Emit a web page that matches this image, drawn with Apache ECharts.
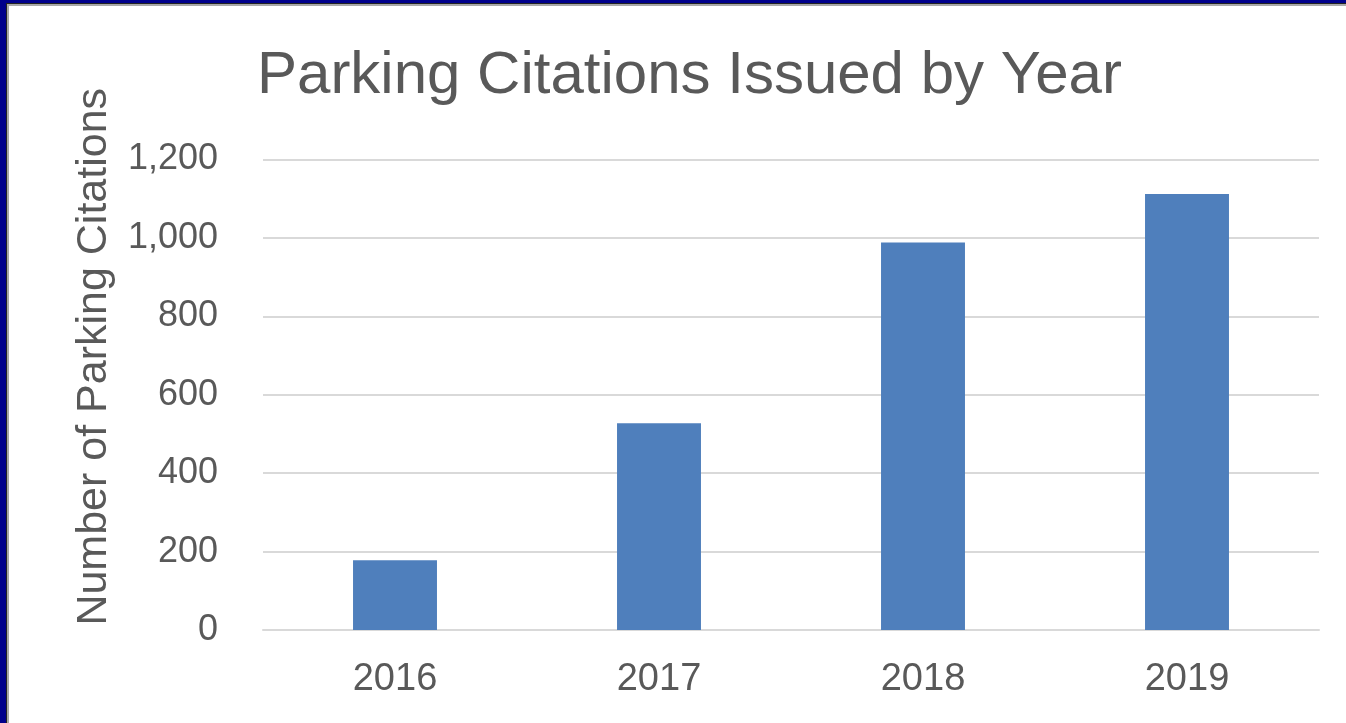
<!DOCTYPE html>
<html>
<head>
<meta charset="utf-8">
<script src="https://cdn.jsdelivr.net/npm/echarts@6/dist/echarts.min.js"></script>
<style>
  html, body { margin: 0; padding: 0; background: #ffffff; }
  #wrap { position: relative; width: 1346px; height: 723px; overflow: hidden; background: #ffffff; }
  #chart { position: absolute; left: 0; top: 0; width: 1346px; height: 723px; }
  .navyL { position: absolute; left: 0; top: 0; width: 6px; height: 723px; background: #00008b; }
  .navyT { position: absolute; left: 0; top: 0; width: 1346px; height: 3px; background: #00008b; }
  .darkL { position: absolute; left: 6px; top: 3px; width: 1px; height: 720px; background: #222222; }
  .darkT { position: absolute; left: 6px; top: 3px; width: 1340px; height: 1px; background: #222222; }
  .grayL { position: absolute; left: 7px; top: 4px; width: 2px; height: 719px; background: #a8a8a8; }
  .grayT { position: absolute; left: 7px; top: 4px; width: 1339px; height: 2px; background: #a8a8a8; }
</style>
</head>
<body>
<div id="wrap">
  <div id="chart"></div>
  <div class="navyL"></div><div class="navyT"></div>
  <div class="darkL"></div><div class="darkT"></div>
  <div class="grayL"></div><div class="grayT"></div>
</div>
<script>
const titleText = "Parking Citations Issued by Year";
const yAxisTitle = "Number of Parking Citations";
const years = ["2016", "2017", "2018", "2019"];
const citations = [178, 527, 988, 1112];

const FONT = "'Liberation Sans', Arial, sans-serif";
const TEXT = "#595959";

const chart = echarts.init(document.getElementById('chart'), null, { renderer: 'canvas' });
chart.setOption({
  backgroundColor: '#ffffff',
  animation: false,
  title: {
    text: titleText,
    left: 252,
    top: 41,
    textStyle: { fontFamily: FONT, fontSize: 60, fontWeight: 'normal', color: TEXT }
  },
  grid: { left: 263, right: 27, top: 159.5, bottom: 93, containLabel: false },
  xAxis: {
    type: 'category',
    data: years,
    axisLine: { show: true, lineStyle: { color: '#d9d9d9', width: 2 } },
    axisTick: { show: false },
    axisLabel: { fontFamily: FONT, fontSize: 38, color: TEXT, margin: 31 }
  },
  yAxis: {
    type: 'value',
    min: 0,
    max: 1200,
    interval: 200,
    name: yAxisTitle,
    nameLocation: 'middle',
    nameGap: 147,
    nameRotate: 90,
    nameTextStyle: { fontFamily: FONT, fontSize: 43, color: TEXT, padding: [0, 0, 0, 76] },
    axisLine: { show: false },
    axisTick: { show: false },
    splitLine: { show: true, lineStyle: { color: '#d9d9d9', width: 2 } },
    axisLabel: {
      fontFamily: FONT, fontSize: 36, color: TEXT, margin: 45,
      formatter: v => v.toLocaleString('en-US')
    }
  },
  series: [{
    type: 'bar',
    data: citations,
    barWidth: '31.8%',
    itemStyle: { color: '#4f7fbc' }
  }]
});
</script>
</body>
</html>
